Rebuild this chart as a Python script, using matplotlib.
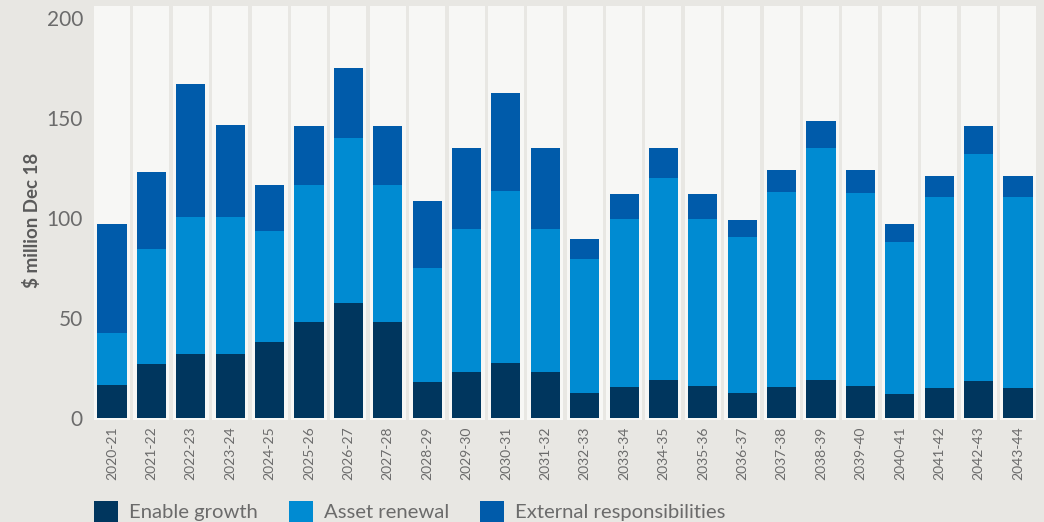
import matplotlib.pyplot as plt
from matplotlib.patches import Patch
import numpy as np

years = ['2020-21', '2021-22', '2022-23', '2023-24', '2024-25', '2025-26',
         '2026-27', '2027-28', '2028-29', '2029-30', '2030-31', '2031-32',
         '2032-33', '2033-34', '2034-35', '2035-36', '2036-37', '2037-38',
         '2038-39', '2039-40', '2040-41', '2041-42', '2042-43', '2043-44']

# $ million (Dec 18) per category
enable_growth = [16.5, 27, 32, 32, 38, 48, 57.5, 48, 18, 23, 27.5, 23,
                 12.5, 15.5, 19, 16, 12.5, 15.5, 19, 16, 12, 15, 18.5, 15]
asset_renewal = [26, 57.5, 68.5, 68.5, 55.5, 68.5, 82.5, 68.5, 57, 71.5, 86, 71.5,
                 67, 84, 101, 83.5, 78, 97.5, 116, 96.5, 76, 95.5, 113.5, 95.5]
external_resp = [54.5, 38.5, 66.5, 46, 23, 29.5, 35, 29.5, 33.5, 40.5, 49, 40.5,
                 10, 12.5, 15, 12.5, 8.5, 11, 13.5, 11.5, 9, 10.5, 14, 10.5]

series_names = ['Enable growth', 'Asset renewal', 'External responsibilities']
series_colors = ['#00365e', '#008bd2', '#005baa']

BG = '#e8e7e3'
STRIPE = '#f7f7f5'
TEXT = '#6b6b6b'

plt.rcParams['font.family'] = ['Lato', 'DejaVu Sans']

fig = plt.figure(figsize=(10.44, 5.22), dpi=100, facecolor=BG)
W, H = 1044, 522
ax = fig.add_axes([94 / W, (H - 419.5) / H, (1036 - 94) / W, 413.5 / H])
ax.set_facecolor(BG)

# light column band behind each year
x = np.arange(len(years))
half = 0.457
for xi in x:
    ax.axvspan(xi - half, xi + half, color=STRIPE, lw=0, zorder=0)

bottom = np.zeros(len(years))
for vals, color in zip([enable_growth, asset_renewal, external_resp], series_colors):
    ax.bar(x, vals, bottom=bottom, width=0.74, color=color, lw=0, zorder=2)
    bottom += np.array(vals)

ax.set_xlim(-half, len(years) - 1 + half)
ax.set_ylim(-0.75, 206)
ax.set_yticks([0, 50, 100, 150, 200])
ax.set_xticks(x)
ax.set_xticklabels(years, rotation=90, fontsize=10, color=TEXT)
ax.tick_params(axis='y', length=0, pad=8, labelsize=15, labelcolor=TEXT)
ax.tick_params(axis='x', length=0, pad=5)
for s in ax.spines.values():
    s.set_visible(False)

fig.text(32 / W, 1 - 220 / H, '$ million Dec 18', rotation=90, ha='center', va='center',
         fontsize=13.5, fontweight='bold', color='#5a5a5a')

handles = [Patch(facecolor=c, edgecolor='none', label=n) for n, c in zip(series_names, series_colors)]
fig.legend(handles=handles, loc='lower left', bbox_to_anchor=(94 / W, 0), ncol=3,
           frameon=False, fontsize=14.6, labelcolor=TEXT, handlelength=1.2, handleheight=1.2,
           handletextpad=0.55, columnspacing=1.5, borderpad=0, borderaxespad=0)

fig.savefig('out.png', dpi=100, facecolor=BG)
